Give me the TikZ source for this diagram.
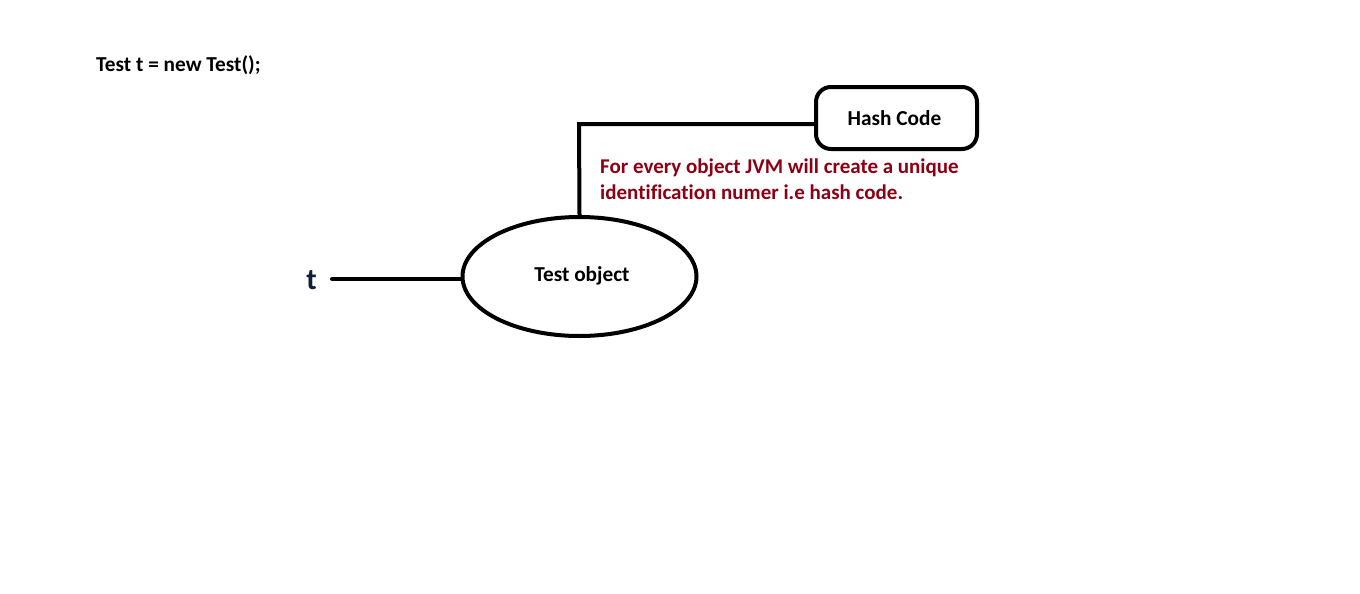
\documentclass[tikz,border=0pt]{standalone}
\usepackage{fontspec}
\setmainfont[Ligatures=NoCommon]{Carlito}
\usetikzlibrary{shapes.geometric}
\definecolor{note}{RGB}{140,0,20}
\definecolor{tcol}{RGB}{15,30,60}
\begin{document}
\begin{tikzpicture}[x=1pt,y=-1pt,
  thick line/.style={line width=4pt, line cap=round},
  lbl/.style={font=\fontsize{21.3}{24}\selectfont\bfseries, inner sep=0pt},
  notelbl/.style={font=\fontsize{21}{24}\selectfont\bfseries, inner sep=0pt, text=note},
  ]
\useasboundingbox[fill=white] (0,0) rectangle (1360,594);
\node[lbl, anchor=base west] (code) at (96,72) {Test t = new Test();};
\node[ellipse, draw, line width=4pt, minimum width=234pt, minimum height=119pt, inner sep=0pt] (obj) at (579.5,276.5) {};
\node[lbl] at (582,276) {Test object};
\node[draw, line width=4pt, rounded corners=15pt, minimum width=161pt, minimum height=62pt, inner sep=0pt] (hash) at (896.5,118) {};
\node[lbl] at (894.5,118) {Hash Code};
\node[font=\fontsize{30}{30}\selectfont\bfseries, text=tcol, inner sep=0pt, anchor=base] (t) at (311.5,289) {t};
\coordinate (tend) at (332,279);
\draw[thick line] (tend) -- (obj.west |- tend);
\coordinate (bend) at (579,124);
\draw[line width=4pt] (obj.north) -- (bend) -- (hash.west |- bend);
\node[notelbl, anchor=base west] (note) at (600,173) {For every object JVM will create a unique};
\node[notelbl, anchor=base west] (note2) at (600,199) {identification numer i.e hash code.};
\end{tikzpicture}
\end{document}
